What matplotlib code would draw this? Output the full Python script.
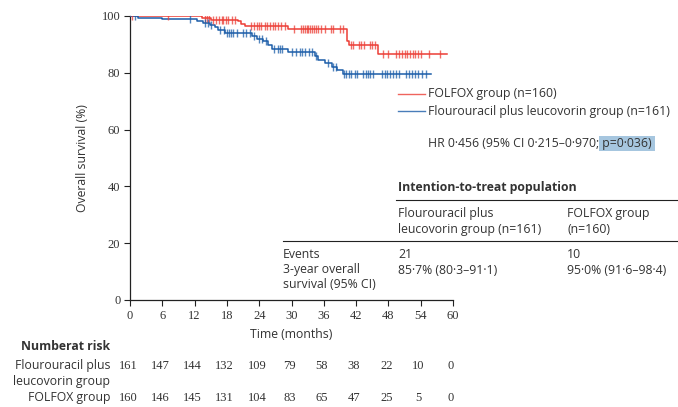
import numpy as np
import matplotlib
matplotlib.use("Agg")
import matplotlib.pyplot as plt
from matplotlib.patches import Rectangle

# ---------------- data ----------------
folfox_t = [0, 13.3, 15.0, 20.1, 20.7, 21.4, 29.4, 40.3, 40.6, 46.1, 58.9]
folfox_s = [100, 99.4, 98.7, 98.1, 97.2, 96.4, 95.4, 91.3, 89.8, 86.6, 86.6]
folfox_cens = [0.4, 7, 14, 14.3, 14.6, 15.5, 16, 16.5, 17, 17.3, 17.8, 18.2, 19, 19.5,
               22.5, 23, 23.5, 24, 24.3, 25, 25.5, 26, 26.5, 27, 27.5, 28, 28.8,
               30.5, 31.8, 32.2, 32.5, 32.8, 33.1, 33.4, 33.8, 34.2, 34.6, 35, 35.5,
               36.2, 37.3, 37.8, 39, 39.5, 41, 41.5, 42.5, 43, 43.5, 44.5, 45, 45.5,
               47, 48, 49.5, 50, 50.5, 51, 51.5, 52, 52.5, 53, 53.5, 54, 55.5, 57.5]

fu_t = [0, 1.5, 6.0, 12.5, 13.6, 14.9, 15.8, 16.3, 17.6, 22.6, 23.5, 24.7, 25.6, 26.3,
        29.4, 34.4, 35.0, 36.2, 37.5, 38.5, 39.5, 56.0]
fu_s = [100, 99.4, 98.8, 98.1, 97.5, 96.9, 96.2, 95.0, 94.0, 92.8, 91.9, 91.1, 89.9, 88.3,
        87.2, 85.8, 84.5, 83.3, 82.2, 81.0, 79.6, 79.6]
fu_cens = [0.9, 11.1, 14, 14.5, 15, 16.8, 17.5, 18, 18.3, 18.7, 19.2, 19.8, 21, 21.6, 22.3,
           23, 24, 24.5, 25.2, 26.8, 27.5, 27.9, 28.3, 30, 30.8, 31.5, 32, 32.6, 33.3,
           33.8, 34.5, 36.8, 37.8, 38.3, 39.8, 40.2, 40.6, 41, 41.8, 42.2, 43.2, 43.8,
           44.2, 44.6, 45.2, 46.8, 47.3, 47.8, 48.3, 48.8, 49.5, 50, 51.2, 51.8, 52.3,
           53, 53.5, 54.2, 55]

risk_times = [0, 6, 12, 18, 24, 30, 36, 42, 48, 54, 60]
risk_fu = [161, 147, 144, 132, 109, 79, 58, 38, 22, 10, 0]
risk_folfox = [160, 146, 145, 131, 104, 83, 65, 47, 25, 5, 0]

RED = "#ec3d35"
BLUE = "#1b5da8"
TXT = "#333333"
FONT = ["Open Sans", "DejaVu Sans"]
SERIF = ["Liberation Serif", "DejaVu Serif"]
FS = 8.8

plt.rcParams['font.family'] = FONT

fig = plt.figure(figsize=(6.78, 4.07), dpi=100)
ax = fig.add_axes([130/678, 1-300/407, 323/678, 284/407])


def surv_at(times, surv, t):
    idx = np.searchsorted(np.asarray(times), t, side='right') - 1
    return np.asarray(surv)[idx]


for t, s, c, col in [(folfox_t, folfox_s, folfox_cens, RED), (fu_t, fu_s, fu_cens, BLUE)]:
    ax.step(t, s, where='post', color=col, lw=1.1, zorder=3)
    cs = [surv_at(t, s, x) for x in c]
    ax.plot(c, cs, ls='none', marker='|', ms=6, mew=1.0, color=col, alpha=0.75, zorder=4)

ax.set_xlim(0, 60)
ax.set_ylim(0, 100)
ax.set_xticks(risk_times)
ax.set_yticks([0, 20, 40, 60, 80, 100])
for sp in ['top', 'right']:
    ax.spines[sp].set_visible(False)
for sp in ['left', 'bottom']:
    ax.spines[sp].set_linewidth(0.9)
    ax.spines[sp].set_color('#222222')
ax.tick_params(direction='out', length=4, width=0.8, color='#222222', labelsize=9,
               labelcolor=TXT, pad=3)
for lab in ax.get_xticklabels() + ax.get_yticklabels():
    lab.set_family(SERIF)
ax.set_xlabel("Time (months)", fontsize=FS, color=TXT, labelpad=4.5)
ax.set_ylabel("Overall survival (%)", fontsize=FS, color=TXT, labelpad=9)


def px(x, y):
    return x/678, 1-y/407


# legend
fig.add_artist(plt.Line2D([398/678, 425/678], [1-94/407]*2, color=RED, lw=1.0, alpha=0.8))
fig.add_artist(plt.Line2D([398/678, 425/678], [1-111/407]*2, color=BLUE, lw=1.0, alpha=0.8))
fig.text(*px(428, 94), "FOLFOX group (n=160)", fontsize=FS, color=TXT, va='center')
fig.text(*px(428, 111), "Flourouracil plus leucovorin group (n=161)", fontsize=FS,
         color=TXT, va='center')

fig.add_artist(Rectangle(px(599, 151), 56/678, 15/407, color="#a6c6df", lw=0, zorder=0))
fig.text(*px(428, 144), "HR 0·456 (95% CI 0·215–0·970; p=0·036)", fontsize=FS,
         color=TXT, va='center')

# table
fig.text(*px(398, 187), "Intention-to-treat population", fontsize=FS, color=TXT,
         va='center', fontweight='bold')
fig.add_artist(plt.Line2D([396/678, 1.0], [1-200/407]*2, color='#222222', lw=0.8))
fig.text(*px(398, 213), "Flourouracil plus", fontsize=FS, color=TXT, va='center')
fig.text(*px(398, 229), "leucovorin group (n=161)", fontsize=FS, color=TXT, va='center')
fig.text(*px(567, 213), "FOLFOX group", fontsize=FS, color=TXT, va='center')
fig.text(*px(567, 229), "(n=160)", fontsize=FS, color=TXT, va='center')
fig.add_artist(plt.Line2D([283/678, 1.0], [1-241/407]*2, color='#222222', lw=0.8))
fig.text(*px(283, 255), "Events", fontsize=FS, color=TXT, va='center')
fig.text(*px(283, 270), "3-year overall", fontsize=FS, color=TXT, va='center')
fig.text(*px(283, 285), "survival (95% CI)", fontsize=FS, color=TXT, va='center')
fig.text(*px(398, 255), "21", fontsize=FS, color=TXT, va='center')
fig.text(*px(398, 270), "85·7% (80·3–91·1)", fontsize=FS, color=TXT, va='center')
fig.text(*px(567, 255), "10", fontsize=FS, color=TXT, va='center')
fig.text(*px(567, 270), "95·0% (91·6–98·4)", fontsize=FS, color=TXT, va='center')

# number at risk
fig.text(*px(110, 346), "Numberat risk", fontsize=FS, color=TXT, va='center', ha='right',
         fontweight='bold')
fig.text(*px(110, 366), "Flourouracil plus", fontsize=FS, color=TXT, va='center', ha='right')
fig.text(*px(110, 382), "leucovorin group", fontsize=FS, color=TXT, va='center', ha='right')
fig.text(*px(110, 398), "FOLFOX group", fontsize=FS, color=TXT, va='center', ha='right')
trans = ax.get_xaxis_transform()
for t, a, b in zip(risk_times, risk_fu, risk_folfox):
    ax.text(t - 0.4, 1-(366-16)/284, str(a), transform=trans, ha='center', va='center',
            fontsize=9, color=TXT, family=SERIF, clip_on=False)
    ax.text(t - 0.4, 1-(398-16)/284, str(b), transform=trans, ha='center', va='center',
            fontsize=9, color=TXT, family=SERIF, clip_on=False)

fig.savefig("out.png", dpi=100)
